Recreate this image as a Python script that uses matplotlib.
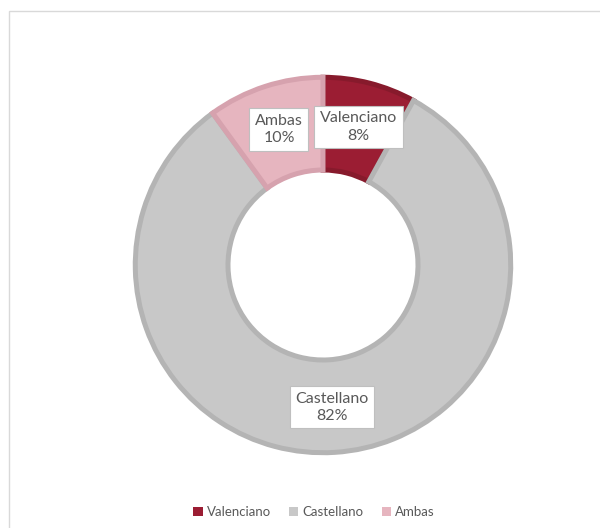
import matplotlib
matplotlib.use("Agg")
import matplotlib.pyplot as plt
from matplotlib.patches import Rectangle, Patch
import numpy as np

categories = ["Valenciano", "Castellano", "Ambas"]
values = [8, 82, 10]
fill_colors = ["#9B1D33", "#C8C8C8", "#E6B5BF"]
edge_colors = ["#871A2C", "#B4B4B4", "#D6A2AE"]
text_color = "#595959"

plt.rcParams["font.family"] = ["Lato", "DejaVu Sans"]

W, H = 600, 528
fig = plt.figure(figsize=(W / 100, H / 100), dpi=100)

# chart-area frame
fig.patches.append(Rectangle((9 / W, -0.1), 1.2, (H - 10.5) / H + 0.1,
                             transform=fig.transFigure, fill=False,
                             edgecolor="#D9D9D9", linewidth=1.0))

cx, cy, R = 323, 265, 190
ax = fig.add_axes([(cx - R) / W, (H - cy - R) / H, 2 * R / W, 2 * R / H])

wedges, _ = ax.pie(values, colors=fill_colors, startangle=90, counterclock=False,
                   radius=0.988, wedgeprops=dict(width=0.488, linewidth=3.6),
                   normalize=True)
for w, ec in zip(wedges, edge_colors):
    w.set_edgecolor(ec)
ax.set_xlim(-1, 1)
ax.set_ylim(-1, 1)
ax.set_aspect("equal")
ax.axis("off")

total = sum(values)
start = 90.0
for w, cat, v in zip(wedges, categories, values):
    sweep = 360.0 * v / total
    mid = np.deg2rad(start - sweep / 2)
    start -= sweep
    r = 0.75
    ax.text(r * np.cos(mid), r * np.sin(mid), f"{cat}\n{v}%",
            ha="center", va="center", fontsize=11.5, color=text_color,
            linespacing=1.3,
            bbox=dict(boxstyle="square,pad=0.35", facecolor="white",
                      edgecolor="#BFBFBF", linewidth=0.8))

handles = [Patch(facecolor=c, edgecolor="none") for c in fill_colors]
fig.legend(handles, categories, loc="center", bbox_to_anchor=(314 / W, 1 - 512 / H),
           ncol=3, frameon=False, fontsize=9.5, labelcolor=text_color,
           handlelength=0.7, handleheight=0.7, handletextpad=0.3, columnspacing=1.4)

fig.savefig("out.png", dpi=100, facecolor="white")
